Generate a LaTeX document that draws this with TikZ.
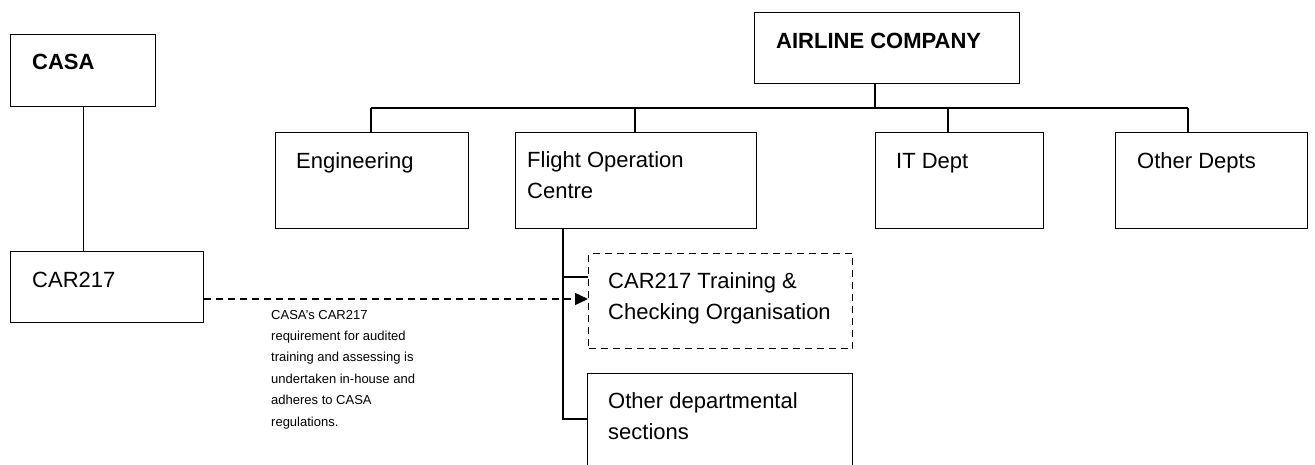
\documentclass[tikz,border=0pt]{standalone}
\usepackage{fontspec}
\setmainfont{Liberation Sans}
\usetikzlibrary{arrows.meta,calc}
\begin{document}
\begin{tikzpicture}[x=1pt,y=-1pt,
  box/.style={draw, line width=1.4pt, inner sep=0pt, anchor=north west},
  dbox/.style={box, dash pattern=on 7pt off 5pt},
  lbl/.style={anchor=base west, inner sep=0pt, align=left, font=\fontsize{22}{31}\selectfont},
  blbl/.style={anchor=base west, inner sep=0pt, align=left, font=\fontsize{22}{31}\selectfont\bfseries},
  note/.style={anchor=base west, inner sep=0pt, align=left, font=\fontsize{13}{21.4}\selectfont},
  conn/.style={line width=1.4pt},
  dconn/.style={line width=1.4pt, dash pattern=on 7pt off 5pt},
]
\useasboundingbox (0,0) rectangle (1315,464);
\fill[white] (0,0) rectangle (1315,464);
\clip (0,0) rectangle (1315,464);
% boxes
\node[box, minimum width=145pt, minimum height=72pt] (casa) at (10,34) {};
\node[box, minimum width=193pt, minimum height=71pt] (car) at (10,251) {};
\node[box, minimum width=265pt, minimum height=71pt] (airline) at (754,12) {};
\node[box, minimum width=193pt, minimum height=96pt] (eng) at (275,132) {};
\node[box, minimum width=241pt, minimum height=96pt] (fo) at (515,132) {};
\node[box, minimum width=168pt, minimum height=96pt] (it) at (875,132) {};
\node[box, minimum width=192pt, minimum height=96pt] (od) at (1115,132) {};
\node[dbox, minimum width=264pt, minimum height=95pt] (tc) at (588,253) {};
\node[box, minimum width=265pt, minimum height=120pt] (ods) at (587,373) {};
% texts (base = baseline of the last line)
\node[blbl] (casaT) at (32,69) {CASA};
\node[blbl] (airlineT) at (776,48) {AIRLINE COMPANY};
\node[lbl] (carT) at (32,287) {CAR217};
\node[lbl] (engT) at (296,168) {Engineering};
\node[lbl] (foT) at (527,198) {Flight Operation\\Centre};
\node[lbl] (itT) at (896,168) {IT Dept};
\node[lbl] (odT) at (1137,168) {Other Depts};
\node[lbl] (tcT) at (608,319) {CAR217 Training \&\\Checking Organisation};
\node[lbl] (odsT) at (608,439) {Other departmental\\sections};
\node[note] (noteT) at (271,426) {CASA’s CAR217\\requirement for audited\\training and assessing is\\undertaken in-house and\\adheres to CASA\\regulations.};
% connectors
\coordinate (busL) at (371,108);
\coordinate (busR) at (1188,108);
\coordinate (aBus) at (875,108);
\coordinate (dF) at (635,108);
\coordinate (dI) at (948,108);
\coordinate (fj1) at (563,277);
\coordinate (fj2) at (563,419);
\coordinate (ar) at (203,299);
\draw[conn] (casa.south) -- (casa.south |- car.north);
\draw[conn] (airline.south -| aBus) -- (aBus);
\draw[conn] (busL) -- (busR);
\draw[conn] (busL) -- (busL |- eng.north);
\draw[conn] (dF) -- (dF |- fo.north);
\draw[conn] (dI) -- (dI |- it.north);
\draw[conn] (busR) -- (busR |- od.north);
\draw[conn] (fo.south -| fj2) -- (fj2) -- (fj2 -| ods.west);
\draw[conn] (fj1) -- (fj1 -| tc.west);
\draw[dconn, -{Triangle[length=13pt,width=12pt]}] (car.east |- ar) -- (tc.west |- ar);
\end{tikzpicture}
\end{document}
